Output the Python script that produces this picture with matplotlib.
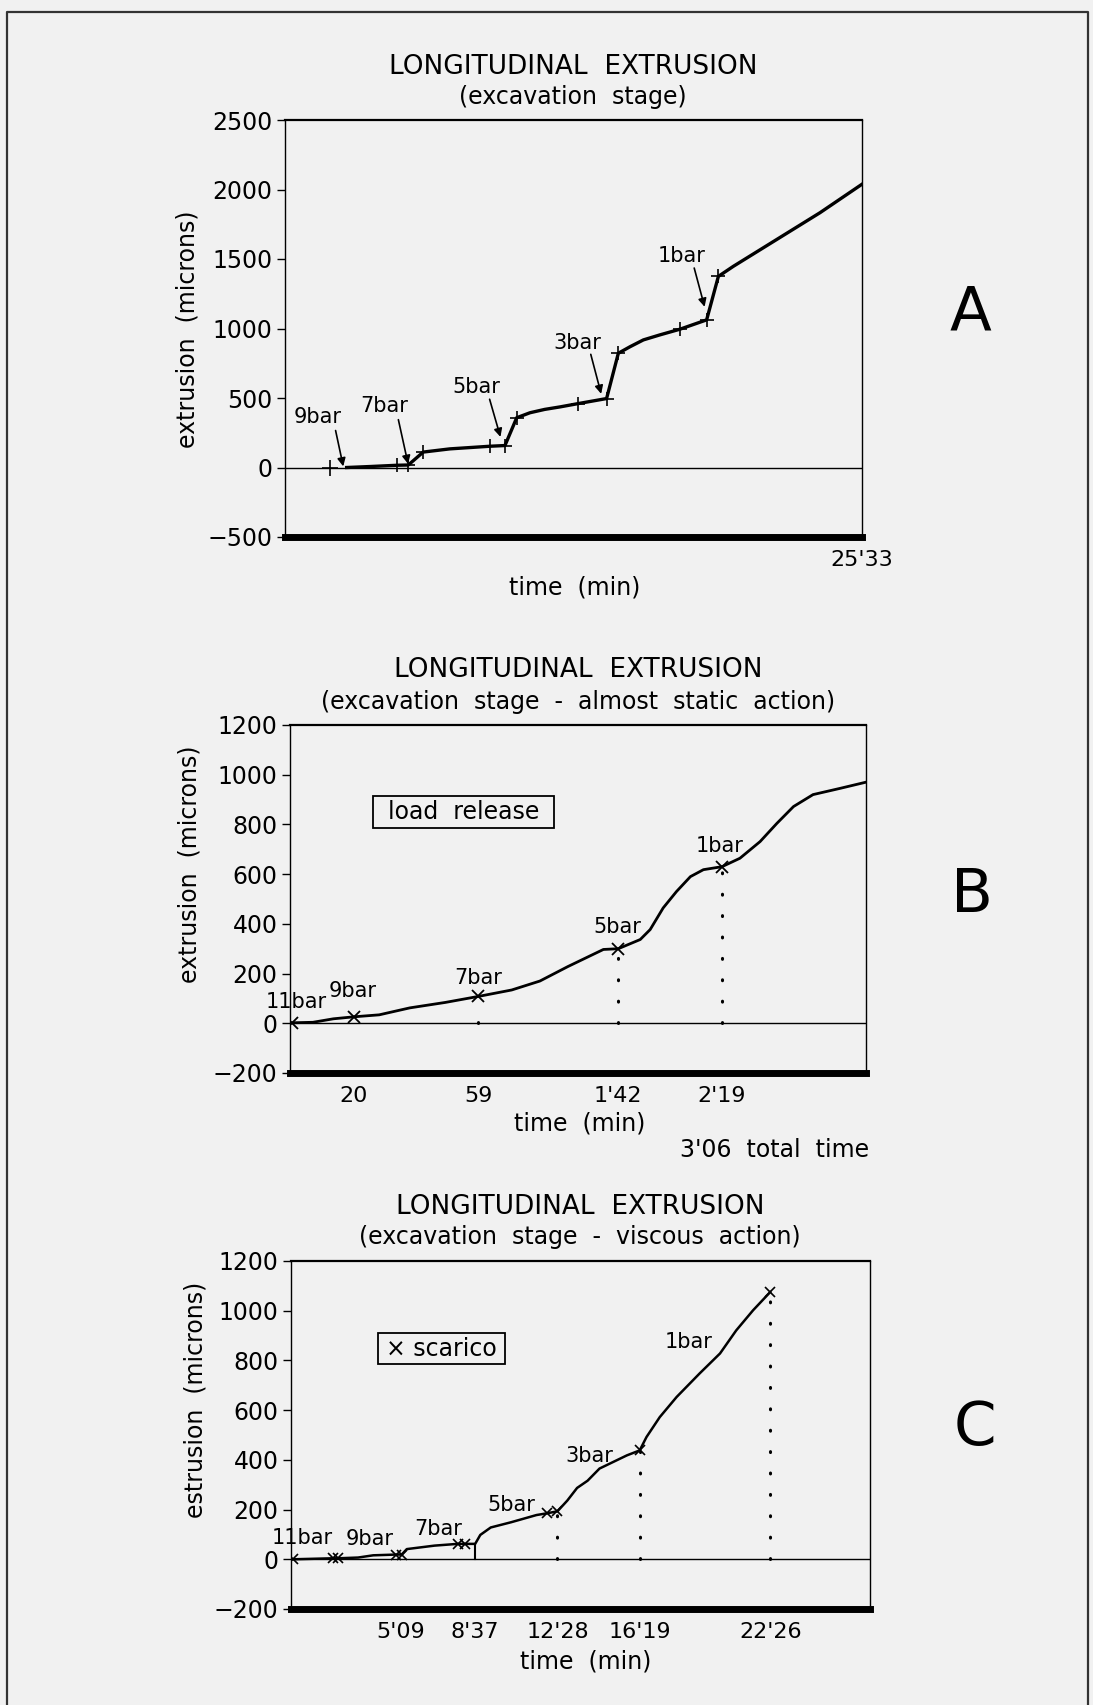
import matplotlib.pyplot as plt
from matplotlib.patches import Rectangle
from matplotlib.lines import Line2D

# Figure size in pixels (dpi 100)
W, H = 1093, 1705

# ---------------- data ----------------
# Panel A: time (min) vs extrusion (microns)
a_time = [2.73, 3.76, 4.95, 5.46, 6.12, 7.3, 9.08, 9.74, 10.26, 10.85, 11.5, 12.18,
          12.99, 14.24, 14.76, 15.28, 15.87, 16.6, 17.49, 18.67, 19.19, 19.85,
          21.77, 23.69, 25.55]
a_ext = [0, 7, 16, 18, 111, 134, 153, 158, 358, 394, 418, 436,
         460, 496, 822, 869, 918, 954, 995, 1062, 1375, 1447,
         1640, 1833, 2038]
a_marks = [2, 3, 4, 6, 7, 8, 12, 13, 14, 18, 19, 20]
a_first_mark = (1.99, 0)
a_labels = ["9bar", "7bar", "5bar", "3bar", "1bar"]
a_label_xy = [(1.45, 362), (4.38, 440), (8.46, 582), (12.93, 897), (17.56, 1525)]
a_arrow_from = [(2.24, 266), (5.02, 344), (9.06, 491), (13.54, 814), (18.12, 1435)]
a_arrow_to = [(2.58, 8), (5.45, 26), (9.54, 220), (14.0, 530), (18.58, 1156)]
a_xtick = [25.55]
a_xticklabel = ["25'33"]

# Panel B: time (s) vs extrusion (microns)
b_time = [0.6, 7.4, 14.0, 20.6, 28.8, 38.7, 50.2, 60.8, 71.6, 80.7, 89.7, 101.2, 106.0,
          113.1, 116.3, 120.5, 124.8, 129.3, 133.5, 139.5, 145.3, 151.8, 157.2,
          162.6, 168.9, 177.6, 186.0]
b_ext = [2, 4, 18, 26, 34, 62, 84, 108, 134, 170, 228, 297, 300,
         337, 377, 464, 530, 590, 618, 630, 664, 731, 804,
         872, 920, 945, 970]
b_marks = [0, 3, 7, 12, 19]
b_labels = ["11bar", "9bar", "7bar", "5bar", "1bar"]
b_label_xy = [(2.1, 84), (20.3, 131), (60.9, 184), (105.8, 386), (138.8, 713)]
b_dotted_x = [60.8, 106.0, 139.5]
b_dotted_top = [12, 300, 630]
b_xticks = [20.6, 60.8, 106.0, 139.5]
b_xticklabels = ["20", "59", "1'42", "2'19"]
b_box = (26.8, 787, 85.2, 915)

# Panel C: time (min) vs extrusion (microns)
c_time = [0.09, 1.95, 2.20, 3.14, 3.85, 4.93, 5.18, 5.42, 6.72, 7.80, 8.16, 8.62, 8.86,
          9.35, 10.30, 11.49, 11.98, 12.47, 12.93, 13.39, 13.88, 14.44, 15.72, 16.32,
          16.64, 17.26, 18.05, 19.13, 20.08, 20.84, 21.63, 22.43]
c_ext = [0, 4, 4, 7, 16, 19, 19, 41, 55, 62, 62, 62, 98,
         128, 149, 178, 185, 193, 236, 287, 316, 365, 418, 438,
         492, 572, 653, 748, 828, 921, 1002, 1075]
c_marks = [0, 1, 2, 5, 6, 9, 10, 16, 17, 23, 31]
c_labels = ["11bar", "9bar", "7bar", "5bar", "3bar", "1bar"]
c_label_xy = [(0.51, 84), (3.66, 80), (6.91, 123), (10.3, 219), (13.98, 417), (18.6, 873)]
c_dotted_x = [12.47, 16.32, 22.43]
c_dotted_top = [193, 438, 1075]
c_step_x = 8.62
c_step_top = 62
c_xticks = [5.15, 8.62, 12.47, 16.32, 22.43]
c_xticklabels = ["5'09", "8'37", "12'28", "16'19", "22'26"]
c_box = (4.07, 784, 10.0, 910)


def fx(px):
    return px / W


def fy(py):
    return 1 - py / H


def axes_px(x0, x1, y0, y1):
    return [fx(x0), fy(y1), (x1 - x0) / W, (y1 - y0) / H]


def style_axes(ax, ylim, yticks):
    ax.set_facecolor("none")
    ax.set_ylim(*ylim)
    ax.set_yticks(yticks)
    ax.tick_params(axis="y", direction="out", length=6, width=1, pad=3, labelsize=17)
    ax.tick_params(axis="x", length=0, pad=9, labelsize=16)
    ax.spines["bottom"].set_linewidth(5)
    ax.spines["top"].set_linewidth(1.6)
    ax.spines["left"].set_linewidth(1.0)
    ax.spines["right"].set_linewidth(1.0)
    ax.axhline(0, color="k", lw=1.0)


plt.rcParams["font.family"] = ["DejaVu Sans"]
fig = plt.figure(figsize=(W / 100, H / 100), dpi=100, facecolor="#f1f1f1")

# outer frame of the page
fig.add_artist(Line2D([fx(7), fx(7), fx(1088), fx(1088)], [0, fy(12), fy(12), 0],
                      transform=fig.transFigure, color="#333333", lw=1.6))

# ---------------- Panel A ----------------
axA = fig.add_axes(axes_px(285, 862, 120, 537))
style_axes(axA, (-500, 2500), [-500, 0, 500, 1000, 1500, 2000, 2500])
axA.set_xlim(0, 25.55)
axA.plot(a_time, a_ext, color="k", lw=2.4, marker="+", markevery=a_marks,
         markersize=10, markeredgewidth=1.2)
axA.plot([a_first_mark[0]], [a_first_mark[1]], marker="+", color="k",
         markersize=12, markeredgewidth=1.2)
for lab, xy, p0, p1 in zip(a_labels, a_label_xy, a_arrow_from, a_arrow_to):
    axA.text(xy[0], xy[1], lab, fontsize=15, ha="center", va="center")
    axA.annotate("", xy=p1, xytext=p0,
                 arrowprops=dict(arrowstyle="-|>", color="k", lw=1.2,
                                 mutation_scale=12, shrinkA=0, shrinkB=0))
axA.set_xticks(a_xtick)
axA.set_xticklabels(a_xticklabel)

fig.text(fx(573), fy(67), "LONGITUDINAL  EXTRUSION", fontsize=19, ha="center", va="center")
fig.text(fx(573), fy(97), "(excavation  stage)", fontsize=17, ha="center", va="center")
fig.text(fx(575), fy(587), "time  (min)", fontsize=17, ha="center", va="center")
fig.text(fx(188), fy(329), "extrusion  (microns)", fontsize=17, rotation=90,
         ha="center", va="center")
fig.text(fx(970), fy(313), "A", fontsize=44, ha="center", va="center")

# ---------------- Panel B ----------------
axB = fig.add_axes(axes_px(290, 866, 725, 1073))
style_axes(axB, (-200, 1200), [-200, 0, 200, 400, 600, 800, 1000, 1200])
axB.set_xlim(0, 186)
axB.plot(b_time, b_ext, color="k", lw=2.0, marker="x", markevery=b_marks,
         markersize=8, markeredgewidth=1.3)
for x, top in zip(b_dotted_x, b_dotted_top):
    axB.plot([x, x], [0, top], color="k", lw=2.2, linestyle=(0, (0.3, 6.7)),
             dash_capstyle="round")
for lab, xy in zip(b_labels, b_label_xy):
    axB.text(xy[0], xy[1], lab, fontsize=15, ha="center", va="center")
axB.add_patch(Rectangle((b_box[0], b_box[1]), b_box[2] - b_box[0], b_box[3] - b_box[1],
                        fill=False, edgecolor="k", lw=1.3))
axB.text((b_box[0] + b_box[2]) / 2, (b_box[1] + b_box[3]) / 2, "load  release",
         fontsize=17, ha="center", va="center")
axB.set_xticks(b_xticks)
axB.set_xticklabels(b_xticklabels)

fig.text(fx(578), fy(670), "LONGITUDINAL  EXTRUSION", fontsize=19, ha="center", va="center")
fig.text(fx(578), fy(702), "(excavation  stage  -  almost  static  action)", fontsize=17,
         ha="center", va="center")
fig.text(fx(580), fy(1124), "time  (min)", fontsize=17, ha="center", va="center")
fig.text(fx(869), fy(1150), "3'06  total  time", fontsize=17, ha="right", va="center")
fig.text(fx(190), fy(864), "extrusion  (microns)", fontsize=17, rotation=90,
         ha="center", va="center")
fig.text(fx(972), fy(895), "B", fontsize=44, ha="center", va="center")

# ---------------- Panel C ----------------
axC = fig.add_axes(axes_px(291, 870, 1261, 1609))
style_axes(axC, (-200, 1200), [-200, 0, 200, 400, 600, 800, 1000, 1200])
axC.set_xlim(0, 27.1)
axC.plot(c_time, c_ext, color="k", lw=1.8, marker="x", markevery=c_marks,
         markersize=7, markeredgewidth=1.2)
axC.plot([c_step_x, c_step_x], [0, c_step_top], color="k", lw=1.5)
for x, top in zip(c_dotted_x, c_dotted_top):
    axC.plot([x, x], [0, top], color="k", lw=2.2, linestyle=(0, (0.3, 6.7)),
             dash_capstyle="round")
for lab, xy in zip(c_labels, c_label_xy):
    axC.text(xy[0], xy[1], lab, fontsize=15, ha="center", va="center")
axC.add_patch(Rectangle((c_box[0], c_box[1]), c_box[2] - c_box[0], c_box[3] - c_box[1],
                        fill=False, edgecolor="k", lw=1.3))
axC.text((c_box[0] + c_box[2]) / 2, (c_box[1] + c_box[3]) / 2, "\u00d7 scarico",
         fontsize=17, ha="center", va="center")
axC.set_xticks(c_xticks)
axC.set_xticklabels(c_xticklabels)

fig.text(fx(580), fy(1207), "LONGITUDINAL  EXTRUSION", fontsize=19, ha="center", va="center")
fig.text(fx(580), fy(1237), "(excavation  stage  -  viscous  action)", fontsize=17,
         ha="center", va="center")
fig.text(fx(586), fy(1661), "time  (min)", fontsize=17, ha="center", va="center")
fig.text(fx(195), fy(1400), "estrusion  (microns)", fontsize=17, rotation=90,
         ha="center", va="center")
fig.text(fx(975), fy(1428), "C", fontsize=44, ha="center", va="center")

fig.savefig("out.png", dpi=100, facecolor=fig.get_facecolor())
